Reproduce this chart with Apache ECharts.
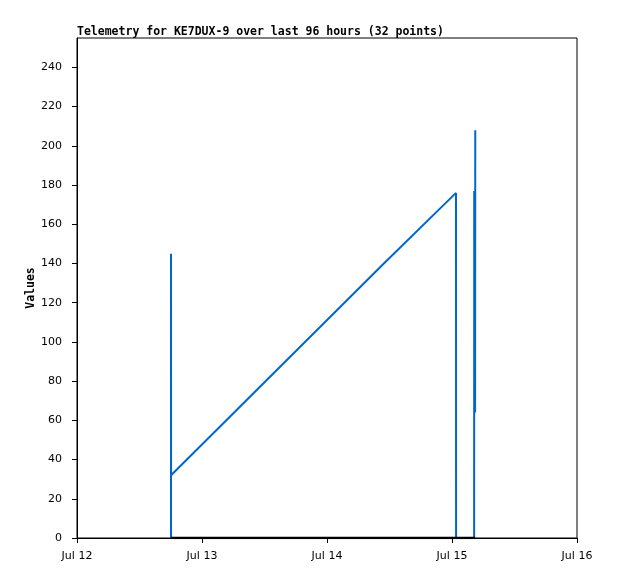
<!DOCTYPE html>
<html>
<head>
<meta charset="utf-8">
<script src="https://cdn.jsdelivr.net/npm/echarts@6/dist/echarts.min.js"></script>
<style>
  html, body { margin: 0; padding: 0; background: #fff; }
  #chart { width: 618px; height: 579px; }
</style>
</head>
<body>
<div id="chart"></div>
<script>
// telemetry samples (time, value)
const sampleTimes = [
  '2024-07-12 18:03', '2024-07-12 18:03', '2024-07-12 18:04',
  '2024-07-13 07:40', '2024-07-14 10:55', '2024-07-15 00:46',
  '2024-07-15 00:47', '2024-07-15 04:15', '2024-07-15 04:16',
  '2024-07-15 04:26', '2024-07-15 04:28'
]
const sampleValues = [0, 145, 32, 68, 140, 176, 0, 0, 177, 64, 208]

// flat channel sitting at zero
const zeroTimes = ['2024-07-12 18:04', '2024-07-15 04:28']
const zeroValues = [0, 0]

const yTicks = [0, 20, 40, 60, 80, 100, 120, 140, 160, 180, 200, 220, 240]
const dayLabels = ['Jul 12', 'Jul 13', 'Jul 14', 'Jul 15', 'Jul 16']

const start = new Date(2024, 6, 12).getTime()
const end = new Date(2024, 6, 16).getTime()
const dayMs = 86400000

const chart = echarts.init(document.getElementById('chart'))

chart.setOption({
  animation: false,
  title: {
    text: 'Telemetry for KE7DUX-9 over last 96 hours (32 points)',
    left: 77,
    top: 26,
    padding: 0,
    textStyle: {
      fontFamily: 'DejaVu Sans Mono',
      fontWeight: 'bold',
      fontSize: 11.5,
      color: '#000'
    }
  },
  grid: {
    left: 77,
    top: 38,
    width: 500,
    height: 500,
    show: true,
    borderColor: '#000',
    borderWidth: 1
  },
  xAxis: {
    type: 'time',
    min: start,
    max: end,
    interval: dayMs,
    splitLine: { show: false },
    axisLine: { lineStyle: { color: '#000', width: 1 } },
    axisTick: { show: true, length: 5, lineStyle: { color: '#000' } },
    axisLabel: {
      color: '#000',
      fontFamily: 'DejaVu Sans',
      fontSize: 11,
      margin: 13,
      showMinLabel: true,
      showMaxLabel: true,
      formatter: function (val) {
        const i = Math.round((val - start) / dayMs)
        return dayLabels[i] || ''
      }
    }
  },
  yAxis: {
    type: 'value',
    min: 0,
    max: 255,
    name: 'Values',
    nameLocation: 'middle',
    nameGap: 40,
    nameMoveOverlap: false,
    nameRotate: 90,
    nameTextStyle: {
      fontFamily: 'DejaVu Sans Mono',
      fontWeight: 'bold',
      fontSize: 11.5,
      color: '#000'
    },
    splitLine: { show: false },
    axisLine: { show: true, lineStyle: { color: '#000', width: 1 } },
    axisTick: { show: true, length: 5, customValues: yTicks, lineStyle: { color: '#000' } },
    axisLabel: {
      color: '#000',
      fontFamily: 'DejaVu Sans',
      fontSize: 11,
      margin: 15,
      customValues: yTicks
    }
  },
  series: [
    {
      type: 'line',
      data: sampleTimes.map((t, i) => [t, sampleValues[i]]),
      showSymbol: false,
      color: '#0066cc',
      lineStyle: { width: 2, color: '#0066cc' }
    },
    {
      type: 'line',
      data: zeroTimes.map((t, i) => [t, zeroValues[i]]),
      showSymbol: false,
      z: 5,
      color: '#000',
      lineStyle: { width: 2.5, color: '#000' }
    }
  ]
})
</script>
</body>
</html>
